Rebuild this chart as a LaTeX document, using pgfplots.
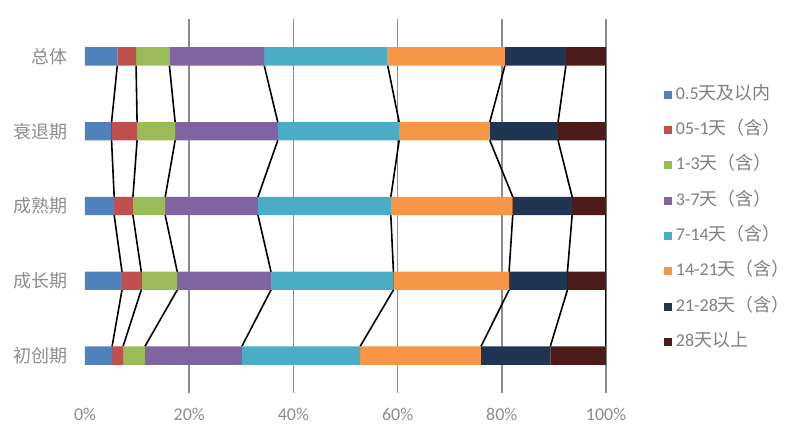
\documentclass[border=0pt]{standalone}
\usepackage{pgfplots}
\pgfplotsset{compat=1.18}
\usepackage{pgfplotstable}
\usepackage{fontspec}
\setmainfont{Carlito}
\newfontfamily\cjk{Noto Sans CJK SC}
\definecolor{s1}{HTML}{4F81BD}
\definecolor{s2}{HTML}{C0504D}
\definecolor{s3}{HTML}{9BBB59}
\definecolor{s4}{HTML}{8064A2}
\definecolor{s5}{HTML}{4BACC6}
\definecolor{s6}{HTML}{F79646}
\definecolor{s7}{HTML}{1F3552}
\definecolor{s8}{HTML}{4E1B1B}
\definecolor{txt}{HTML}{8C8C8C}
\definecolor{legtxt}{HTML}{7F7F7F}
\definecolor{gridc}{HTML}{8C8C8C}

\pgfplotstableread{
y a b c d e f g h
0 5.2 2.1 4.2 18.6 22.7 23.2 13.3 10.7
1 7.1 3.7 6.9 18.0 23.5 22.2 11.2 7.4
2 5.6 3.6 6.2 17.8 25.5 23.4 11.4 6.5
3 5.1 4.9 7.3 19.7 23.3 17.4 13.1 9.2
4 6.2 3.6 6.4 18.2 23.7 22.5 11.7 7.7
}\bars

\pgfplotstableread{
y c1 c2 c3 c4 c5 c6 c7 c8
0.1225 5.2 7.3 11.5 30.1 52.8 76.0 89.3 100
0.8775 7.1 10.8 17.7 35.7 59.2 81.4 92.6 100
1.1225 7.1 10.8 17.7 35.7 59.2 81.4 92.6 100
1.8775 5.6 9.2 15.4 33.2 58.7 82.1 93.5 100
2.1225 5.6 9.2 15.4 33.2 58.7 82.1 93.5 100
2.8775 5.1 10.0 17.3 37.0 60.3 77.7 90.8 100
3.1225 5.1 10.0 17.3 37.0 60.3 77.7 90.8 100
3.8775 6.2 9.8 16.2 34.4 58.1 80.6 92.3 100
}\cum

\pgfplotsset{common/.style={
  width=521pt, height=374pt, scale only axis,
  xmin=0, xmax=100, ymin=-0.5, ymax=4.5,
  axis line style={draw=none}, major tick length=0pt,
}}

\begin{document}
\begin{tikzpicture}
\path[use as bounding box] (-85pt,-44pt) rectangle (721pt,393pt);
% grid and series lines
\begin{axis}[common,
  xtick={20,40,...,100}, xticklabels={}, ytick=\empty,
  xmajorgrids, grid style={gridc, line width=1.5pt},
]
\addplot[black, line width=1.6pt, line join=round] table[x=c1,y=y]{\cum};
\addplot[black, line width=1.6pt, line join=round] table[x=c2,y=y]{\cum};
\addplot[black, line width=1.6pt, line join=round] table[x=c3,y=y]{\cum};
\addplot[black, line width=1.6pt, line join=round] table[x=c4,y=y]{\cum};
\addplot[black, line width=1.6pt, line join=round] table[x=c5,y=y]{\cum};
\addplot[black, line width=1.6pt, line join=round] table[x=c6,y=y]{\cum};
\addplot[black, line width=1.6pt, line join=round] table[x=c7,y=y]{\cum};
\addplot[black, line width=1.6pt, line join=round] table[x=c8,y=y]{\cum};
\end{axis}
% bars
\begin{axis}[common,
  xbar stacked, bar width=0.245,
  xtick={0,20,...,100},
  xticklabels={0\%,20\%,40\%,60\%,80\%,100\%},
  xticklabel style={font=\fontsize{18}{21}\selectfont, text=txt, yshift=-12pt},
  ytick={0,1,2,3,4},
  yticklabels={\cjk 初创期,\cjk 成长期,\cjk 成熟期,\cjk 衰退期,\cjk 总体},
  yticklabel style={font=\fontsize{18}{21}\selectfont, text=txt, xshift=-14pt},
  legend cell align=left,
  legend image code/.code={\fill[#1] (0pt,-4pt) rectangle (8pt,4pt);},
  legend style={draw=none, fill=none, at={(1.105,0.467)}, anchor=west,
    font=\fontsize{18}{21}\selectfont, text=legtxt, row sep=16.3pt,
    /tikz/every odd column/.append style={column sep=3pt},
    nodes={inner sep=1pt, text height=13pt, text depth=4pt}},
]
\addplot[fill=s1, draw=none] table[x=a,y=y]{\bars};
\addlegendentry{0.5{\cjk 天及以内}}
\addplot[fill=s2, draw=none] table[x=b,y=y]{\bars};
\addlegendentry{05-1{\cjk 天（含）}}
\addplot[fill=s3, draw=none] table[x=c,y=y]{\bars};
\addlegendentry{1-3{\cjk 天（含）}}
\addplot[fill=s4, draw=none] table[x=d,y=y]{\bars};
\addlegendentry{3-7{\cjk 天（含）}}
\addplot[fill=s5, draw=none] table[x=e,y=y]{\bars};
\addlegendentry{7-14{\cjk 天（含）}}
\addplot[fill=s6, draw=none] table[x=f,y=y]{\bars};
\addlegendentry{14-21{\cjk 天（含）}}
\addplot[fill=s7, draw=none] table[x=g,y=y]{\bars};
\addlegendentry{21-28{\cjk 天（含）}}
\addplot[fill=s8, draw=none] table[x=h,y=y]{\bars};
\addlegendentry{28{\cjk 天以上}}
\end{axis}
\end{tikzpicture}
\end{document}
